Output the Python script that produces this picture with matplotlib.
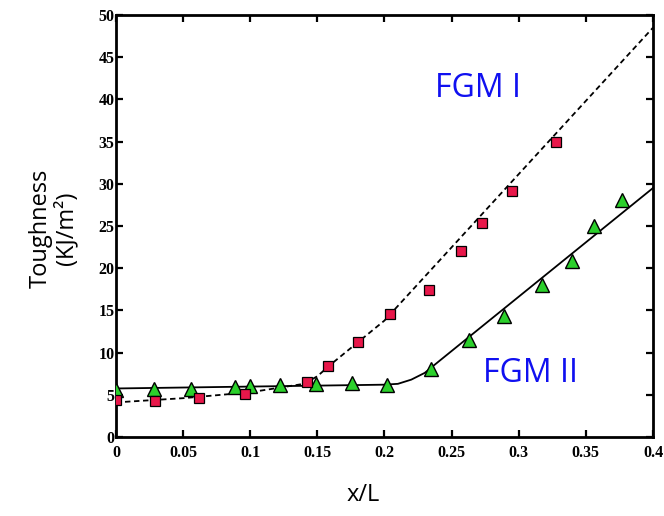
import matplotlib
matplotlib.use("Agg")
import matplotlib.pyplot as plt

# ---- data -----------------------------------------------------------------
fgm1_x = [0.0, 0.029, 0.062, 0.096, 0.142, 0.158, 0.180, 0.204, 0.233, 0.257, 0.273, 0.295, 0.328]
fgm1_y = [4.4, 4.3, 4.6, 5.1, 6.5, 8.4, 11.2, 14.6, 17.4, 22.0, 25.4, 29.1, 35.0]

fgm2_x = [0.0, 0.028, 0.056, 0.089, 0.100, 0.122, 0.149, 0.176, 0.202, 0.235, 0.263, 0.289, 0.317, 0.340, 0.356, 0.377]
fgm2_y = [5.6, 5.7, 5.7, 5.9, 6.0, 6.2, 6.3, 6.4, 6.2, 8.0, 11.5, 14.3, 18.0, 20.9, 25.0, 28.1]

# fitted curves (knots)
fit1_x = [0.0, 0.05, 0.10, 0.14, 0.15, 0.16, 0.20, 0.40]
fit1_y = [4.1, 4.6, 5.3, 6.3, 7.2, 8.6, 13.8, 48.5]
fit2_x = [0.0, 0.20, 0.21, 0.22, 0.23, 0.24, 0.40]
fit2_y = [5.75, 6.2, 6.3, 6.8, 7.6, 8.9, 29.5]

x_ticks = [0, 0.05, 0.1, 0.15, 0.2, 0.25, 0.3, 0.35, 0.4]
x_labels = ["0", "0.05", "0.1", "0.15", "0.2", "0.25", "0.3", "0.35", "0.4"]
y_ticks = [0, 5, 10, 15, 20, 25, 30, 35, 40, 45, 50]

RED = "#E8174A"
GREEN = "#2BD02B"
BLUE = "#1010F0"

fig = plt.figure(figsize=(6.64, 5.16), dpi=100)
ax = fig.add_axes([0.1747, 0.1531, 0.8087, 0.8178])

ax.plot(fit1_x, fit1_y, color="black", lw=1.3, ls=(0, (3.0, 2.0)), zorder=2)
ax.plot(fit2_x, fit2_y, color="black", lw=1.3, ls="-", zorder=2)
ax.plot(fgm2_x, fgm2_y, "^", ms=10, mfc=GREEN, mec="black", mew=1.0, ls="none", zorder=3)
ax.plot(fgm1_x, fgm1_y, "s", ms=7.5, mfc=RED, mec="black", mew=0.9, ls="none", zorder=4)

ax.set_xlim(0, 0.4)
ax.set_ylim(0, 50)
ax.set_xticks(x_ticks)
ax.set_xticklabels(x_labels)
ax.set_yticks(y_ticks)

for s in ax.spines.values():
    s.set_linewidth(2.0)
ax.tick_params(direction="in", length=5, width=1.6, top=True, right=True, pad=6)
for lab in ax.get_xticklabels() + ax.get_yticklabels():
    lab.set_fontfamily("Liberation Serif")
    lab.set_fontweight("bold")
    lab.set_fontsize(11.5)
ax.tick_params(axis="y", pad=1)

ax.text(0.2695, 41.3, "FGM I", color=BLUE, fontsize=23, family="Open Sans",
        ha="center", va="center")
ax.text(0.3087, 7.5, "FGM II", color=BLUE, fontsize=23, family="Open Sans",
        ha="center", va="center")

fig.text(0.08, 0.558, "Toughness\n(KJ/m\u00b2)", rotation=90, fontsize=17,
         family="Open Sans", ha="center", va="center", linespacing=1.05)
fig.text(0.5467, 0.04, "x/L", fontsize=17, family="Open Sans", ha="center", va="center")

fig.savefig("out.png", dpi=100)
